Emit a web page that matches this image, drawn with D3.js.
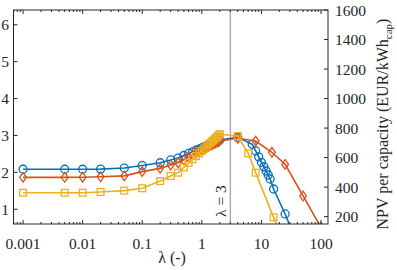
<!DOCTYPE html>
<html>
<head>
<meta charset="utf-8">
<script src="https://cdn.jsdelivr.net/npm/d3@7"></script>
<style>
  body { margin: 0; background: #fff; }
  svg { display: block; }
</style>
</head>
<body>
<div id="chart"></div>
<script>
// series values (NPV per capacity)
var blueLambda = [0.001, 0.005, 0.01, 0.02, 0.05, 0.1, 0.2, 0.3, 0.4,
  0.5, 0.6, 0.7, 0.8, 0.9, 1, 1.1, 1.2, 1.3, 1.4, 1.5, 1.6, 1.7, 1.8, 1.9, 2,
  4, 7, 8, 9, 10, 11, 12, 13, 14, 16, 25, 50];
var blueNPV = [521, 521, 521, 522, 529, 546, 565, 584, 597,
  614, 628, 639, 650, 658, 666, 674, 680, 686, 692, 697, 702, 707, 711, 715, 719,
  737, 690, 645, 605, 568, 538, 509, 482, 455, 387, 218, -80];

var orangeLambda = [0.001, 0.005, 0.01, 0.02, 0.05, 0.1, 0.2, 0.3, 0.4,
  0.5, 0.6, 0.7, 0.8, 0.9, 1, 1.1, 1.2, 1.3, 1.4, 1.5, 1.6, 1.7, 1.8, 1.9, 2,
  4, 8, 15, 25, 50, 100];
var orangeNPV = [466, 466, 467, 470, 476, 505, 527, 550, 565,
  585, 603, 618, 631, 642, 652, 661, 669, 676, 683, 689, 695, 700, 705, 709, 713,
  731, 712, 636, 554, 340, 126];

var yellowLambda = [0.001, 0.005, 0.01, 0.02, 0.05, 0.1, 0.2, 0.3, 0.4,
  0.5, 0.6, 0.7, 0.8, 0.9, 1, 1.1, 1.2, 1.3, 1.4, 1.5, 1.6, 1.7, 1.8, 1.9, 2,
  4, 6, 8, 16, 32];
var yellowNPV = [362, 362, 362, 367, 376, 392, 441, 475, 498,
  534, 564, 589, 610, 629, 646, 661, 675, 689, 700, 712, 722, 732, 741, 750, 758,
  746, 629, 498, 195, -100];

var xTicks = [0.001, 0.01, 0.1, 1, 10, 100];
var xTickLabels = ["0.001", "0.01", "0.1", "1", "10", "100"];
var leftTicks = [1, 2, 3, 4, 5, 6];
var rightTicks = [200, 400, 600, 800, 1000, 1200, 1400, 1600];
var markLambda = 3;

var W = 397, H = 270;
var L = 13.5, R = 328, T = 10, B = 224;
var axisColor = "#262626";
var font = "Liberation Serif";

var svg = d3.select("#chart").append("svg")
  .attr("width", W).attr("height", H);

var x = d3.scaleLog().domain([Math.pow(10, -3.16), Math.pow(10, 2.117)]).range([L, R]);
var yL = d3.scaleLinear().domain([0.6, 6.4]).range([B, T]);
var yR = d3.scaleLinear().domain([150, 1600]).range([B, T]);

svg.append("defs").append("clipPath").attr("id", "plot")
  .append("rect").attr("x", L).attr("y", T).attr("width", R - L).attr("height", B - T);

// lambda = 3 marker line
svg.append("line")
  .attr("x1", x(markLambda)).attr("x2", x(markLambda))
  .attr("y1", T).attr("y2", B)
  .attr("stroke", "#8c8c8c").attr("stroke-width", 1);
svg.append("text")
  .attr("transform", "translate(" + (x(markLambda) - 4) + "," + 217 + ") rotate(-90)")
  .attr("font-family", font)
  .attr("font-size", 15.5)
  .attr("fill", axisColor)
  .text("\u03bb = 3");

// series
var series = [
  { lam: blueLambda, val: blueNPV, color: "#0072BD", shape: "circle" },
  { lam: orangeLambda, val: orangeNPV, color: "#D95319", shape: "diamond" },
  { lam: yellowLambda, val: yellowNPV, color: "#EDB120", shape: "square" }
];

var plot = svg.append("g").attr("clip-path", "url(#plot)");
var line = d3.line()
  .x(function (d) { return x(d[0]); })
  .y(function (d) { return yR(d[1]); });

series.forEach(function (s) {
  var pts = s.lam.map(function (l, i) { return [l, s.val[i]]; });
  plot.append("path")
    .datum(pts)
    .attr("d", line)
    .attr("fill", "none")
    .attr("stroke", s.color)
    .attr("stroke-width", 1.6);

  var g = plot.append("g");
  pts.forEach(function (p) {
    var cx = x(p[0]), cy = yR(p[1]);
    if (s.shape === "circle") {
      g.append("circle").attr("cx", cx).attr("cy", cy).attr("r", 4);
    } else if (s.shape === "square") {
      g.append("rect").attr("x", cx - 3.4).attr("y", cy - 3.4)
        .attr("width", 6.8).attr("height", 6.8);
    } else {
      g.append("path").attr("d", "M" + cx + "," + (cy - 4.8) + "L" + (cx + 3.4) + "," + cy +
        "L" + cx + "," + (cy + 4.8) + "L" + (cx - 3.4) + "," + cy + "Z");
    }
  });
  g.selectAll("*").attr("fill", "none").attr("stroke", s.color).attr("stroke-width", 1.3);
});

// box
var box = svg.append("g").attr("stroke", axisColor).attr("stroke-width", 1).attr("fill", "none");
box.append("rect").attr("x", L).attr("y", T).attr("width", R - L).attr("height", B - T);

// log x ticks, bottom and top, pointing inward
var minor = [];
for (var e = -4; e <= 2; e++) {
  for (var m = 1; m <= 9; m++) {
    var v = m * Math.pow(10, e);
    if (x(v) >= L && x(v) <= R) minor.push({ v: v, major: m === 1 });
  }
}
minor.forEach(function (t) {
  var len = t.major ? 4 : 2;
  box.append("line").attr("x1", x(t.v)).attr("x2", x(t.v)).attr("y1", B).attr("y2", B - len);
  box.append("line").attr("x1", x(t.v)).attr("x2", x(t.v)).attr("y1", T).attr("y2", T + len);
});
leftTicks.forEach(function (t) {
  box.append("line").attr("x1", L).attr("x2", L + 4).attr("y1", yL(t)).attr("y2", yL(t));
});
rightTicks.forEach(function (t) {
  box.append("line").attr("x1", R).attr("x2", R - 4).attr("y1", yR(t)).attr("y2", yR(t));
});

// tick labels
var labels = svg.append("g");
labels.selectAll("text.xt").data(xTicks).enter().append("text")
  .attr("class", "xt")
  .attr("x", function (d) { return x(d); })
  .attr("y", 249)
  .attr("text-anchor", "middle")
  .text(function (d, i) { return xTickLabels[i]; });

labels.selectAll("text.yl").data(leftTicks).enter().append("text")
  .attr("class", "yl")
  .attr("x", 9)
  .attr("y", function (d) { return yL(d) + 5.5; })
  .attr("text-anchor", "end")
  .text(function (d) { return d; });

labels.selectAll("text.yr").data(rightTicks).enter().append("text")
  .attr("class", "yr")
  .attr("x", 335)
  .attr("y", function (d) { return yR(d) + 5.5; })
  .text(function (d) { return d; });

labels.selectAll("text")
  .attr("font-family", font)
  .attr("font-size", 15.5)
  .attr("fill", axisColor);

// axis labels
svg.append("text")
  .attr("x", 172).attr("y", 263)
  .attr("text-anchor", "middle")
  .attr("font-family", font)
  .attr("font-size", 16)
  .attr("fill", axisColor)
  .text("\u03bb (-)");

var yl = svg.append("text")
  .attr("transform", "translate(388,124) rotate(-90)")
  .attr("text-anchor", "middle")
  .attr("font-family", font)
  .attr("font-size", 16)
  .attr("fill", axisColor);
yl.append("tspan").text("NPV per capacity (EUR/kWh");
yl.append("tspan").attr("font-size", 11).attr("dy", 4).text("cap");
yl.append("tspan").attr("dy", -4).text(")");
</script>
</body>
</html>
